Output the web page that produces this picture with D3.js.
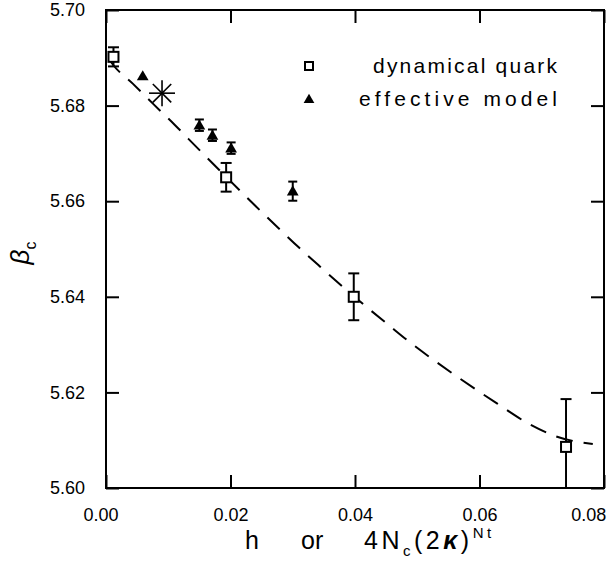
<!DOCTYPE html>
<html>
<head>
<meta charset="utf-8">
<script src="https://cdn.jsdelivr.net/npm/d3@7"></script>
<style>
  html, body { margin: 0; padding: 0; background: #fff; }
  svg { display: block; font-family: "Liberation Sans", Arial, sans-serif; }
</style>
</head>
<body>
<svg id="chart" width="616" height="566"></svg>
<script>
// Critical coupling beta_c versus h (or 4 N_c (2 kappa)^Nt)

// Dynamical quark simulations (open squares)
const quarkH    = [0.0012, 0.0193, 0.0398, 0.0739];
const quarkBeta = [5.6902, 5.6650, 5.6400, 5.6086];
const quarkErr  = [0.0020, 0.0030, 0.0049, 0.0100];

// Effective model (filled triangles)
const modelH    = [0.0059, 0.0150, 0.0171, 0.0201, 0.0300];
const modelBeta = [5.6862, 5.6759, 5.6738, 5.6711, 5.6621];
const modelErr  = [0.0000, 0.0012, 0.0012, 0.0012, 0.0020];

// Single point marked with an asterisk
const starH    = [0.0090];
const starBeta = [5.6826];

// Dashed fit curve
const curveH    = [0.0005, 0.0011, 0.0043, 0.0077, 0.0111, 0.0132, 0.0193, 0.0241, 0.0276, 0.0310,
                   0.0344, 0.0400, 0.0453, 0.0488, 0.0525, 0.0564, 0.0628, 0.0681, 0.0723, 0.0782];
const curveBeta = [5.6897, 5.6886, 5.6846, 5.6802, 5.6759, 5.6731, 5.6651, 5.6589, 5.6545, 5.6503,
                   5.6463, 5.6399, 5.6342, 5.6305, 5.6269, 5.6233, 5.6177, 5.6133, 5.6108, 5.6092];

// Axis ticks
const xTicks = [0.00, 0.02, 0.04, 0.06, 0.08];
const yTicks = [5.60, 5.62, 5.64, 5.66, 5.68, 5.70];

// Legend entries
const legendLabels = ["dynamical quark", "effective model"];

const svg = d3.select("#chart");
const plotL = 106, plotR = 604, plotT = 10, plotB = 488;

const x = d3.scaleLinear().domain([0, 0.08]).range([plotL, plotR]);
const y = d3.scaleLinear().domain([5.60, 5.70]).range([plotB, plotT]);

const tickLen = 13;
const fmt = d3.format(".2f");

// clip region for marks
svg.append("defs").append("clipPath").attr("id", "plotClip")
  .append("rect").attr("x", plotL).attr("y", plotT)
  .attr("width", plotR - plotL).attr("height", plotB - plotT);

function styleAxis(g, withLabels) {
  g.select(".domain").remove();
  g.selectAll(".tick line").attr("stroke", "#000").attr("stroke-width", 2);
  g.selectAll(".tick text").attr("fill", "#000").attr("font-size", 18);
  if (!withLabels) g.selectAll(".tick text").remove();
}

// bottom axis with labels
const gx = svg.append("g").attr("transform", `translate(0,${plotB})`)
  .call(d3.axisBottom(x).tickValues(xTicks).tickFormat(fmt)
        .tickSizeInner(-tickLen).tickSizeOuter(0).tickPadding(20));
styleAxis(gx, true);
gx.selectAll(".tick text").filter(d => d === 0.08).attr("text-anchor", "end").attr("dx", "0.1em");
gx.selectAll(".tick text").filter(d => d === 0.00).attr("dx", "-0.3em");

// top axis
const gxt = svg.append("g").attr("transform", `translate(0,${plotT})`)
  .call(d3.axisTop(x).tickValues(xTicks).tickSizeInner(-tickLen).tickSizeOuter(0));
styleAxis(gxt, false);

// left axis with labels
const gy = svg.append("g").attr("transform", `translate(${plotL},0)`)
  .call(d3.axisLeft(y).tickValues(yTicks).tickFormat(fmt)
        .tickSizeInner(-tickLen).tickSizeOuter(0).tickPadding(21));
styleAxis(gy, true);

// right axis
const gyr = svg.append("g").attr("transform", `translate(${plotR},0)`)
  .call(d3.axisRight(y).tickValues(yTicks).tickSizeInner(-tickLen).tickSizeOuter(0));
styleAxis(gyr, false);

// frame
svg.append("rect").attr("x", plotL).attr("y", plotT)
  .attr("width", plotR - plotL).attr("height", plotB - plotT)
  .attr("fill", "none").attr("stroke", "#000").attr("stroke-width", 2);

const plot = svg.append("g").attr("clip-path", "url(#plotClip)");

// dashed curve
const curvePts = curveH.map((h, i) => [h, curveBeta[i]]);
plot.append("path")
  .datum(curvePts)
  .attr("d", d3.line().x(d => x(d[0])).y(d => y(d[1])).curve(d3.curveMonotoneX))
  .attr("fill", "none").attr("stroke", "#000").attr("stroke-width", 2)
  .attr("stroke-dasharray", "17,11");

// error bars
function errorBars(hs, bs, es, capW) {
  hs.forEach((h, i) => {
    if (!es[i]) return;
    const cx = x(h), y1 = y(bs[i] - es[i]), y2 = y(bs[i] + es[i]);
    const g = plot.append("g").attr("stroke", "#000").attr("stroke-width", 2);
    g.append("line").attr("x1", cx).attr("x2", cx).attr("y1", y1).attr("y2", y2);
    g.append("line").attr("x1", cx - capW / 2).attr("x2", cx + capW / 2).attr("y1", y1).attr("y2", y1);
    g.append("line").attr("x1", cx - capW / 2).attr("x2", cx + capW / 2).attr("y1", y2).attr("y2", y2);
  });
}
errorBars(quarkH, quarkBeta, quarkErr, 11);
errorBars(modelH, modelBeta, modelErr, 9);

// open squares
const sq = 10;
plot.selectAll("rect.quark").data(quarkH).join("rect")
  .attr("class", "quark")
  .attr("x", d => x(d) - sq / 2)
  .attr("y", (d, i) => y(quarkBeta[i]) - sq / 2)
  .attr("width", sq).attr("height", sq)
  .attr("fill", "#fff").attr("stroke", "#000").attr("stroke-width", 2);

// filled triangles
const tri = d3.symbol().type(d3.symbolTriangle).size(60);
plot.selectAll("path.model").data(modelH).join("path")
  .attr("class", "model")
  .attr("d", tri)
  .attr("transform", (d, i) => `translate(${x(d)},${y(modelBeta[i]) + 1})`)
  .attr("fill", "#000");

// asterisk
const starR = 13;
starH.forEach((h, i) => {
  const cx = x(h), cy = y(starBeta[i]);
  const g = plot.append("g").attr("stroke", "#000").attr("stroke-width", 1.6);
  [0, 45, 90, 135].forEach(a => {
    const t = a * Math.PI / 180;
    g.append("line")
      .attr("x1", cx - starR * Math.cos(t)).attr("y1", cy - starR * Math.sin(t))
      .attr("x2", cx + starR * Math.cos(t)).attr("y2", cy + starR * Math.sin(t));
  });
});

// legend
const legend = svg.append("g");
legend.append("rect").attr("x", 305).attr("y", 62).attr("width", 8).attr("height", 8)
  .attr("fill", "#fff").attr("stroke", "#000").attr("stroke-width", 2);
legend.append("path").attr("d", d3.symbol().type(d3.symbolTriangle).size(50))
  .attr("transform", "translate(309,100)").attr("fill", "#000");
legend.append("text").attr("x", 557).attr("y", 73).attr("text-anchor", "end")
  .attr("font-size", 21).attr("textLength", 184).attr("lengthAdjust", "spacing")
  .text(legendLabels[0]);
legend.append("text").attr("x", 557).attr("y", 106).attr("text-anchor", "end")
  .attr("font-size", 21).attr("textLength", 198).attr("lengthAdjust", "spacing")
  .text(legendLabels[1]);

// x-axis title
const xt = svg.append("g").attr("font-size", 25).attr("fill", "#000");
xt.append("text").attr("x", 245).attr("y", 549).text("h");
xt.append("text").attr("x", 301).attr("y", 549).text("or");
const f = xt.append("text").attr("x", 364).attr("y", 549).attr("letter-spacing", 3.5);
f.append("tspan").text("4N");
f.append("tspan").attr("font-size", 15).attr("dy", 7).text("c");
f.append("tspan").attr("dy", -7).text("(2");
f.append("tspan").attr("font-style", "italic").attr("font-weight", "bold").text("κ");
f.append("tspan").text(")");
f.append("tspan").attr("font-size", 15).attr("dy", -11).text("Nt");

// y-axis title
const yt = svg.append("text")
  .attr("transform", "translate(29,253) rotate(-90)")
  .attr("text-anchor", "middle").attr("font-size", 26).attr("fill", "#000");
yt.append("tspan").attr("font-style", "italic").text("β");
yt.append("tspan").attr("font-size", 16).attr("dy", 7).text("c");
</script>
</body>
</html>
